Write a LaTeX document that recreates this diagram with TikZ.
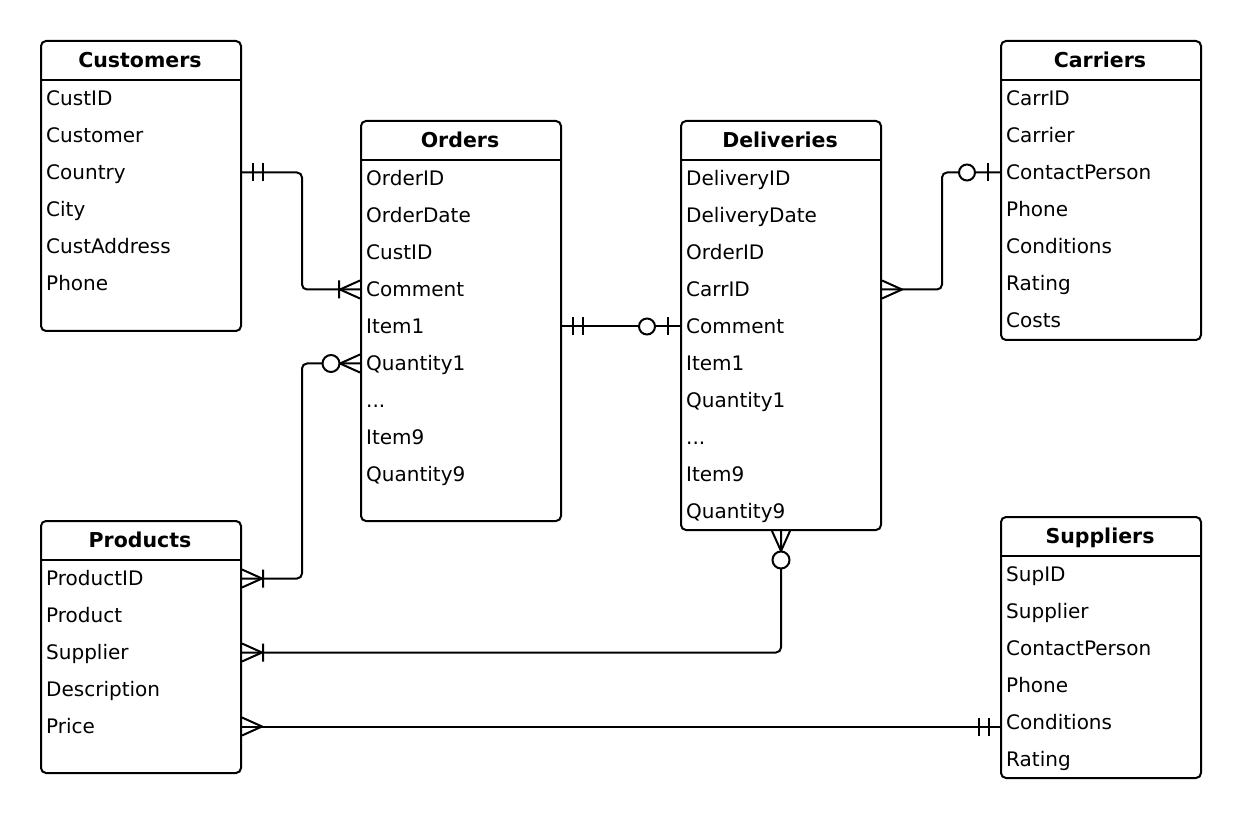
\documentclass[tikz,border=0pt]{standalone}
\usepackage{fontspec}
\setmainfont{DejaVu Sans}
\usetikzlibrary{calc}
\tikzset{
  ebox/.style={draw, line width=2pt, rounded corners=5pt, minimum width=200pt, inner sep=0pt, anchor=north west},
  etitle/.style={anchor=base, font=\bfseries\fontsize{20.5}{24}\selectfont, inner sep=0pt},
  erow/.style={anchor=west, font=\fontsize{20}{24}\selectfont, inner sep=0pt, text height=18.6pt, text depth=4pt},
  link/.style={line width=2pt, rounded corners=5pt},
  endline/.style={line width=2pt},
  endcirc/.style={line width=2pt, fill=white},
}
\newcommand\threedots{...}
\newcommand\entity[6]{%
  \node[ebox, minimum height=#4pt] (#1) at (#2,#3) {};
  \draw[endline] (#2,#3+40) -- (#2+200,#3+40);
  \node[etitle] (#1-t) at (#2+100,#3+27.3) {#5};
  \foreach \r [count=\i] in {#6} {\node[erow] (#1-\i) at (#2+6,#3+58.5+37*\i-37) {\r};}
}
% ER end markers, drawn in a local frame: x points away from the box
\newcommand\ermandone[2]{\begin{scope}[shift={(#1)},#2]\draw[endline] (11,-9) -- (11,9) (21,-9) -- (21,9);\end{scope}}
\newcommand\eronemany[2]{\begin{scope}[shift={(#1)},#2]\draw[endline] (0,-9) -- (20,0) -- (0,9) (21,-9) -- (21,9);\end{scope}}
\newcommand\ermany[2]{\begin{scope}[shift={(#1)},#2]\draw[endline] (0,-9) -- (20,0) -- (0,9);\end{scope}}
\newcommand\erzeromany[2]{\begin{scope}[shift={(#1)},#2]\draw[endline] (0,-9) -- (20,0) -- (0,9);\draw[endcirc] (29,0) circle[radius=8.5];\end{scope}}
\newcommand\erzeroone[2]{\begin{scope}[shift={(#1)},#2]\draw[endline] (12,-9) -- (12,9);\draw[endcirc] (33,0) circle[radius=8];\end{scope}}
\begin{document}
\begin{tikzpicture}[x=1pt,y=-1pt]
\fill[white] (0,0) rectangle (1240,818);
\useasboundingbox (0,0) rectangle (1240,818);

\entity{cust}{40}{40}{290}{Customers}{CustID,Customer,Country,City,CustAddress,Phone}
\entity{ord}{360}{120}{400}{Orders}{OrderID,OrderDate,CustID,Comment,Item1,Quantity1,\threedots,Item9,Quantity9}
\entity{del}{680}{120}{409}{Deliveries}{DeliveryID,DeliveryDate,OrderID,CarrID,Comment,Item1,Quantity1,\threedots,Item9,Quantity9}
\entity{car}{1000}{40}{299}{Carriers}{CarrID,Carrier,ContactPerson,Phone,Conditions,Rating,Costs}
\entity{prod}{40}{520}{252}{Products}{ProductID,Product,Supplier,Description,Price}
\entity{sup}{1000}{516}{261}{Suppliers}{SupID,Supplier,ContactPerson,Phone,Conditions,Rating}

\coordinate (c1a) at (cust.east |- cust-3);
\coordinate (c1b) at (ord.west |- ord-4);
\coordinate (c2a) at (prod.east |- prod-1);
\coordinate (c2b) at (ord.west |- ord-6);
\coordinate (c3a) at (ord.east |- ord-5);
\coordinate (c3b) at (del.west |- del-5);
\coordinate (c4a) at (del.east |- del-4);
\coordinate (c4b) at (car.west |- car-3);
\coordinate (c5a) at (prod.east |- prod-3);
\coordinate (c5b) at (del.south);
\coordinate (c6a) at (prod.east |- prod-5);
\coordinate (c6b) at (sup.west |- prod-5);

\draw[link] (c1a) -- ++(60,0) |- (c1b);
\draw[link] (c2a) -- ++(60,0) |- (c2b);
\draw[link] (c3a) -- (c3b);
\draw[link] (c4a) -- ++(60,0) |- (c4b);
\draw[link] (c5a) -| (c5b);
\draw[link] (c6a) -- (c6b);

\ermandone{c1a}{}
\eronemany{c1b}{xscale=-1}
\eronemany{c2a}{}
\erzeromany{c2b}{xscale=-1}
\ermandone{c3a}{}
\erzeroone{c3b}{xscale=-1}
\ermany{c4a}{}
\erzeroone{c4b}{xscale=-1}
\eronemany{c5a}{}
\erzeromany{c5b}{rotate=-90}
\ermany{c6a}{}
\ermandone{c6b}{xscale=-1}
\end{tikzpicture}
\end{document}
